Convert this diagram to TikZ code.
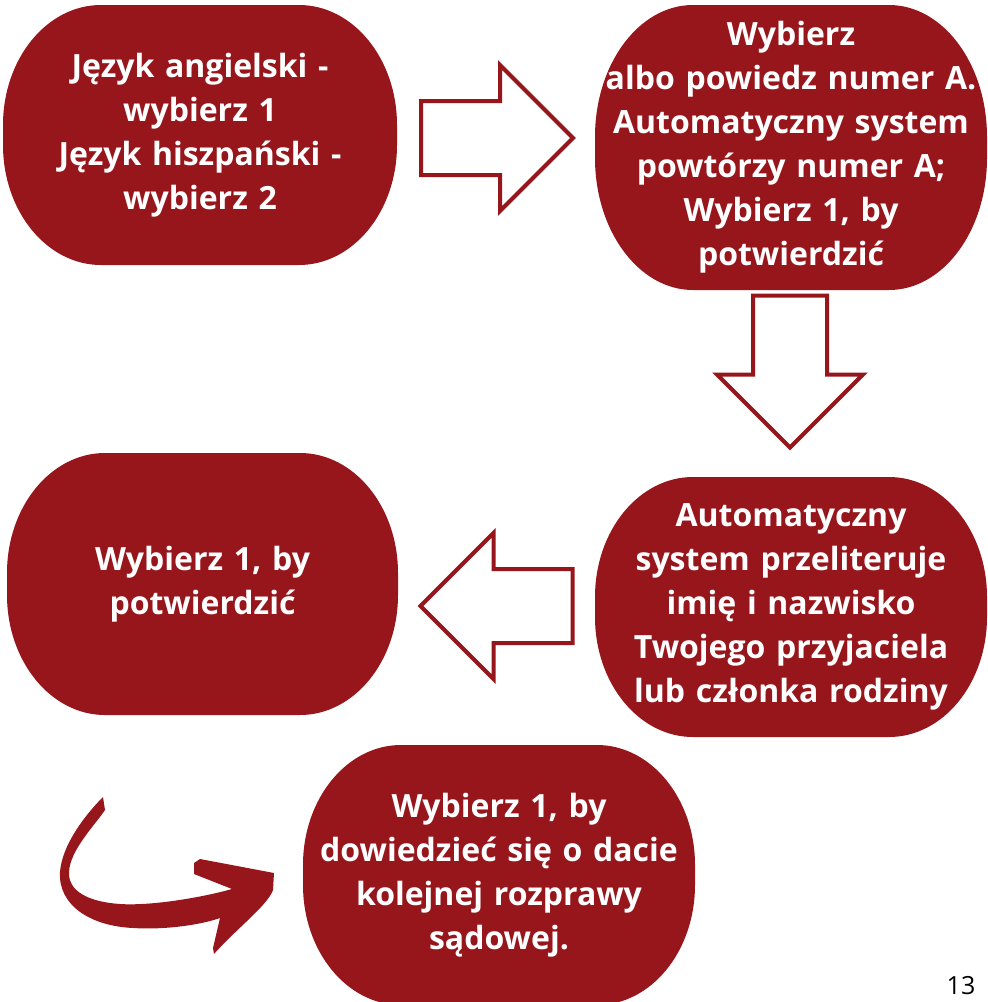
\documentclass[tikz,border=0pt]{standalone}
\usepackage{fontspec}
\setmainfont{Open Sans}
\definecolor{boxred}{RGB}{150,22,28}
\tikzset{
	pill/.style={
		inner sep=0pt,
		text=white,
		align=center,
		text width=390pt,
		font=\bfseries\fontsize{32}{44}\selectfont,
		path picture={
			\fill[boxred]
				([yshift=#1]path picture bounding box.south west)
				-- ([yshift=-#1]path picture bounding box.north west)
				arc[start angle=180,end angle=90,x radius=98pt,y radius=#1]
				-- ([xshift=-98pt]path picture bounding box.north east)
				arc[start angle=90,end angle=0,x radius=98pt,y radius=#1]
				-- ([yshift=#1]path picture bounding box.south east)
				arc[start angle=0,end angle=-90,x radius=98pt,y radius=#1]
				-- ([xshift=98pt]path picture bounding box.south west)
				arc[start angle=-90,end angle=-180,x radius=98pt,y radius=#1]
				-- cycle;
		}
	},
	pill/.default={120pt},
	blockarrow/.pic={
		\draw[boxred, line width=4pt, fill=white, line join=miter]
			(-76,-37) -- (3,-37) -- (3,-73) -- (76,0) -- (3,73) -- (3,37) -- (-76,37) -- cycle;
	}
}

\begin{document}
\begin{tikzpicture}[x=1pt, y=-1pt]
	\useasboundingbox (0,0) rectangle (988,1002);

	\node[pill, minimum width=394pt, minimum height=260pt] (lang) at (200,135)
		{Język angielski -\\wybierz 1\\Język hiszpański -\\wybierz 2};
	\node[pill=132pt, minimum width=392pt, minimum height=285pt] (dialA) at (791,147.5)
		{Wybierz\\albo powiedz numer A.\\Automatyczny system\\powtórzy numer A;\\Wybierz 1, by\\potwierdzić};
	\node[pill, minimum width=392pt, minimum height=260pt] (translit) at (791,607)
		{Automatyczny\\system przeliteruje\\imię i nazwisko\\Twojego przyjaciela\\lub członka rodziny};
	\node[pill, minimum width=391pt, minimum height=262pt] (confirm) at (202.5,584)
		{Wybierz 1, by\\potwierdzić};
	\node[pill, minimum width=392pt, minimum height=260pt] (hearing) at (499,875)
		{Wybierz 1, by\\dowiedzieć się o dacie\\kolejnej rozprawy\\sądowej.};

	% arrows between the steps
	\pic at (497,138) {blockarrow};
	\pic[rotate=-90] at (790,371.5) {blockarrow};
	\pic[rotate=180] at (496.5,606) {blockarrow};

	% brush arrow
	\fill[boxred] (103,797)
		.. controls (85,815) and (62,845) .. (60,872)
		.. controls (58,905) and (90,926) .. (133,928)
		.. controls (165,930) and (200,925) .. (220,918)
		-- (213,948) -- (214,954)
		.. controls (235,930) and (268,905) .. (273,890)
		-- (274,873) -- (200,859) -- (194,863) -- (194,874) -- (232,889)
		.. controls (200,898) and (150,906) .. (120,904)
		.. controls (90,902) and (68,892) .. (69,872)
		.. controls (70,850) and (95,825) .. (105,810)
		-- cycle;

	\node[inner sep=0pt, font=\fontsize{25}{30}\selectfont] (pagenum) at (961,986) {13};
\end{tikzpicture}
\end{document}
